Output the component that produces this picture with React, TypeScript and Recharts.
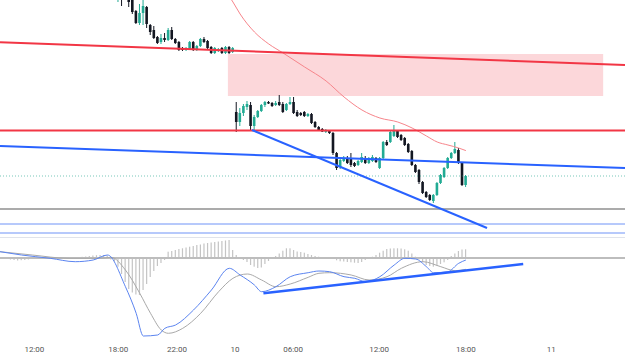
import React from 'react';
import {
  ComposedChart, Bar, Line, XAxis, YAxis, ReferenceLine, ReferenceArea,
} from 'recharts';

// 15-minute bars; x is the bar number counted from the left edge of the view
const FIRST_BAR = 33;
const VIEW_BARS = 174.4;

const BULL = '#22ab94';
const BEAR = '#131722';
const RED = '#f23645';
const BLUE = '#2962ff';

// [open, high, low, close] per bar, starting at FIRST_BAR
const ohlc: [number, number, number, number][] = [
  [2425, 2432.5, 2419, 2430], [2424, 2426, 2417, 2420.5], [2423, 2427, 2421, 2425],
  [2422, 2424, 2416.5, 2419], [2421, 2422, 2413, 2414], [2414.5, 2415, 2408, 2408.5],
  [2408.5, 2418, 2407.5, 2413.5], [2413.5, 2420.5, 2407.5, 2417], [2416.5, 2417, 2406, 2408],
  [2407.5, 2408, 2402.5, 2404], [2405, 2407, 2400.5, 2401], [2401.5, 2402, 2398, 2398.5],
  [2399, 2403, 2398, 2401], [2401, 2403.5, 2399, 2400], [2400, 2406, 2399.5, 2405],
  [2405, 2406.5, 2400, 2400.5], [2400.5, 2401, 2398, 2398.5], [2399, 2399.5, 2394.5, 2395],
  [2395.5, 2396.5, 2394.5, 2395.25], [2395, 2396.5, 2394.5, 2396], [2395.5, 2399.5, 2395, 2399],
  [2399, 2399.5, 2394.5, 2395], [2395, 2397.5, 2394.5, 2397], [2397, 2401, 2396.5, 2400.5],
  [2400.5, 2401.5, 2398.5, 2399], [2399.5, 2400, 2395.5, 2396], [2396.5, 2397, 2393, 2393.5],
  [2393.5, 2396.5, 2393, 2396], [2394.5, 2396, 2394, 2395.5], [2396, 2396.5, 2393, 2393.5],
  [2393.5, 2397, 2393, 2396.5], [2396.5, 2397, 2393, 2393.5], [2394, 2396.5, 2393.5, 2396],
  // day 10
  [2364, 2369, 2354, 2359], [2359, 2366, 2357, 2363.5], [2363.5, 2368, 2362, 2367],
  [2366.5, 2369.5, 2365, 2368], [2367.5, 2369, 2354.5, 2357], [2357, 2362.5, 2355, 2361.5],
  [2361.5, 2365, 2361, 2364.5], [2364.5, 2368, 2364, 2367.5], [2367.5, 2369.5, 2366.5, 2369],
  [2369, 2369.5, 2368, 2368.25], [2368.5, 2369, 2366.5, 2367], [2367.5, 2369.5, 2367, 2368.5],
  [2369, 2372.5, 2367, 2367.5], [2368, 2369, 2363.5, 2364], [2365, 2368.5, 2364.5, 2368],
  [2368, 2371.5, 2367.5, 2369], [2369, 2371.5, 2363, 2363.5], [2364, 2365, 2361.5, 2362],
  [2363.5, 2364, 2362, 2362.5], [2364, 2364.5, 2361.5, 2362], [2362, 2363.5, 2361.5, 2363],
  [2363, 2363.5, 2358, 2358.5], [2359, 2359.5, 2356, 2356.5], [2356.5, 2357, 2354.5, 2355],
  [2355.5, 2356, 2354, 2354.25], [2354, 2355.5, 2353.5, 2355], [2354.5, 2355, 2353, 2353.5],
  [2353.5, 2354, 2342.5, 2343.5], [2343.5, 2344, 2335, 2336], [2336.5, 2341, 2335.5, 2340],
  [2339.5, 2342, 2339, 2341], [2341, 2342, 2338, 2338.5], [2341, 2343.5, 2336.5, 2337.5],
  [2338.5, 2339, 2336.5, 2337], [2337.5, 2340, 2337, 2339.5], [2339, 2343.5, 2338.5, 2341.5],
  [2341, 2342, 2338, 2338.5], [2338.5, 2341.5, 2338, 2341], [2339.5, 2342.5, 2339, 2341.5],
  [2341, 2341.5, 2338.5, 2339], [2336, 2341.5, 2335.5, 2341], [2341, 2349.5, 2340.5, 2349],
  [2349, 2350, 2347, 2347.5], [2349, 2354.5, 2348.5, 2354], [2352, 2357.5, 2351.5, 2355],
  [2354.5, 2355, 2351, 2351.5], [2352.5, 2353, 2349.5, 2350], [2351, 2351.5, 2347, 2347.5],
  [2348, 2348.5, 2343.5, 2344], [2344.5, 2345, 2337, 2337.5], [2337.5, 2338, 2333.5, 2334],
  [2335, 2335.5, 2328, 2329], [2329, 2329.5, 2323, 2323.5], [2324, 2324.5, 2321, 2321.5],
  [2322.5, 2323, 2319.5, 2320], [2319.5, 2323, 2318.5, 2322.5], [2322.5, 2329, 2322, 2328.5],
  [2328.5, 2333, 2328, 2332.5], [2331.5, 2336.5, 2331, 2336], [2336, 2341.5, 2335.5, 2341],
  [2341, 2344, 2340.5, 2343.5], [2343.5, 2349, 2343, 2345.5], [2345, 2346, 2338, 2338.5],
  [2338.5, 2339, 2327, 2327.5], [2327.5, 2332.5, 2326.5, 2332],
];

// moving average, [bar, value]
const maPoints: [number, number][] = [
  [62, 2427], [65, 2419], [67, 2413], [71, 2404], [75, 2398], [79, 2393.5], [85, 2386.5],
  [91, 2379.5], [96, 2371.5], [101, 2365], [106, 2361], [111, 2359], [115, 2356],
  [119, 2352], [122, 2349], [125, 2347.5], [128, 2346], [130, 2344.7],
];

// oscillator pane, [bar, value]
const macdPoints: [number, number][] = [
  [0, 0.63], [6, 0.3], [14, -0.03], [21, -0.37], [26, -0.2], [30, 0.3], [35, -2.87],
  [38, -5.53], [40, -7.8], [44, -7.7], [46, -7.03], [49, -6.7], [54, -5.2], [59, -3.2],
  [64, -1.03], [67, -1.7], [71, -2.7], [73, -3.37], [77, -2.87], [81, -1.87], [86, -1.47],
  [89, -1.3], [92, -1.37], [96, -1.87], [99, -2.03], [102, -2.37], [106, -1.87], [110, -0.7],
  [113, -0.03], [116, -0.1], [119, -0.87], [121, -1.47], [125, -1.37], [128, -0.53], [130, -0.2],
];

const signalPoints: [number, number][] = [
  [0, 0.63], [9, 0.3], [19, -0.03], [28, -0.03], [31, 0.07], [35, -1.2], [39, -3.53],
  [42, -5.53], [45, -7.2], [47, -7.53], [51, -7.03], [56, -5.53], [61, -3.37], [65, -2.03],
  [69, -1.6], [73, -2.2], [77, -2.87], [81, -2.6], [86, -1.93], [89, -1.53], [92, -1.47],
  [98, -1.7], [103, -2.2], [108, -1.87], [112, -1.03], [118, -0.37], [123, -0.87],
  [127, -1.27], [130, -1.13],
];

// histogram, one value per bar from bar 0
const histValues: number[] = [
  0.05, -0.05, -0.1, -0.15, -0.2, -0.25, -0.22, -0.2, -0.15, -0.1, -0.05, 0, 0, 0.02, 0.02,
  0.05, 0.05, 0.06, 0.06, 0.08, 0.08, 0.1, 0.1, 0.12, 0.15, 0.2, 0.25, 0.28, 0.3, 0.3, 0.25,
  -0.15, -0.37, -0.87, -1.6, -2.4, -3.1, -3.45, -3.65, -3.7, -3.2, -2.6, -1.9, -1.3, -0.8, -0.5, -0.2,
  0.63, 0.7, 0.8, 0.9, 0.97, 1.05, 1.13, 1.2, 1.3, 1.35, 1.45, 1.5, 1.55, 1.6, 1.65, 1.7, 1.75, 1.8, 0.8, 0.3,
  0, -0.2, -0.4, -0.7, -0.87, -1.0, -0.95, -0.6, -0.3, -0.05, 0.2, 0.45, 0.73, 0.97, 0.97, 0.8, 0.65,
  0.6, 0.53, 0.4, 0.3, 0.2, 0.13, 0.08, 0.03, -0.05, -0.1, -0.23, -0.33, -0.35, -0.4, -0.43, -0.47,
  -0.5, -0.4, -0.2, -0.05, 0.13, 0.3, 0.53, 0.73, 0.9, 0.95, 0.97, 0.97, 0.95, 0.87, 0.73, 0.45,
  0.13, -0.15, -0.37, -0.7, -0.8, -0.87, -0.8, -0.6, -0.43, -0.2, 0.2, 0.45, 0.7, 0.85, 0.87,
];

const tickBars = [9.6, 33, 49.4, 65.6, 81.8, 105.8, 130, 153.8];
const tickLabels = ['12:00', '18:00', '22:00', '10', '06:00', '12:00', '18:00', '11'];

// drawn levels and trend lines
const upperRedLine: [number, number][] = [[0, 2398.85], [VIEW_BARS, 2387.5]];
const gapZone = { x1: 63.6, x2: 168.3, y1: 2372, y2: 2393 };
const redLevel = 2354.75;
const blueChannel: [number, number][] = [[0, 2347], [VIEW_BARS, 2336]];
const blueTrend: [number, number][] = [[70.3, 2355], [135.9, 2306]];
const lastPrice = 2332;
const greyLevel = 2315.5;
const blueLevels = [2308, 2303.5];
const oscTrend: [number, number][] = [[73.5, -3.53], [146, -0.6]];

const candleRows = ohlc.map(([o, h, l, c], k) => ({ i: FIRST_BAR + k, o, h, l, c, range: [l, h] }));
const maRows = maPoints.map(([i, v]) => ({ i, v }));
const macdRows = macdPoints.map(([i, v]) => ({ i, v }));
const signalRows = signalPoints.map(([i, v]) => ({ i, v }));
const histRows = histValues.map((v, i) => ({ i, v }));

const seg = (pts: [number, number][]) => pts.map(([x, y]) => ({ x, y }));

const Candle = (props: any) => {
  const { x, y, width, height, payload } = props;
  const { o, h, l, c } = payload;
  const top = Math.min(y, y + height);
  const bottom = Math.max(y, y + height);
  if (!(bottom > top)) return null;
  const k = (bottom - top) / (h - l);
  const yOf = (v: number) => top + (h - v) * k;
  const color = c >= o ? BULL : BEAR;
  const cx = x + width / 2;
  const bTop = yOf(Math.max(o, c));
  const bH = Math.max(1, yOf(Math.min(o, c)) - bTop);
  return (
    <g>
      <line x1={cx} x2={cx} y1={top} y2={bottom} stroke={color} strokeWidth={1} />
      <rect x={cx - 1.3} y={bTop} width={2.6} height={bH} fill={color} />
    </g>
  );
};

const HistBar = (props: any) => {
  const { x, y, width, height } = props;
  const top = Math.min(y, y + height);
  const h = Math.abs(height);
  return <rect x={x + width / 2 - 0.6} y={top} width={1.2} height={Math.max(h, 0.5)} fill="#c4c4c4" />;
};

export default function App() {
  return (
    <div style={{
      position: 'absolute', left: 0, top: 0, width: 625, height: 357,
      background: '#fff', fontFamily: 'Roboto, sans-serif', overflow: 'hidden',
    }}>
      <ComposedChart width={625} height={237} data={candleRows}
        margin={{ top: 0, right: 0, bottom: 0, left: 0 }}>
        <XAxis dataKey="i" type="number" domain={[0, VIEW_BARS]} allowDataOverflow hide />
        <YAxis type="number" domain={[2301.5, 2420]} allowDataOverflow hide />
        <ReferenceArea x1={gapZone.x1} x2={gapZone.x2} y1={gapZone.y1} y2={gapZone.y2}
          fill={RED} fillOpacity={0.2} stroke="none" />
        <ReferenceLine y={greyLevel} stroke="#ababab" strokeWidth={2} />
        {blueLevels.map((v) => (
          <ReferenceLine key={v} y={v} stroke="#6f93f7" strokeWidth={1} />
        ))}
        <ReferenceLine y={lastPrice} stroke="#089981" strokeOpacity={0.55}
          strokeDasharray="1 2" strokeWidth={1} />
        <Bar dataKey="range" barSize={3} shape={<Candle />} isAnimationActive={false} />
        <Line data={maRows} dataKey="v" type="monotone" stroke="#f7858b" strokeWidth={1}
          dot={false} isAnimationActive={false} />
        <ReferenceLine segment={seg(upperRedLine)} stroke={RED} strokeWidth={2} ifOverflow="visible" />
        <ReferenceLine y={redLevel} stroke={RED} strokeWidth={2} />
        <ReferenceLine segment={seg(blueChannel)} stroke={BLUE} strokeWidth={2} ifOverflow="visible" />
        <ReferenceLine segment={seg(blueTrend)} stroke={BLUE} strokeWidth={2} ifOverflow="visible" />
      </ComposedChart>

      <div style={{ height: 1, background: '#e0e3eb' }} />

      <ComposedChart width={625} height={119} data={histRows}
        margin={{ top: 0, right: 0, bottom: 0, left: 0 }}>
        <XAxis dataKey="i" type="number" domain={[0, VIEW_BARS]} allowDataOverflow
          ticks={tickBars} interval={0} height={19}
          tickFormatter={(v: number) => tickLabels[tickBars.indexOf(v)] ?? ''}
          axisLine={false} tickLine={false} tick={{ fill: '#555', fontSize: 8 }} />
        <YAxis type="number" domain={[-8, 2]} allowDataOverflow hide />
        <Bar dataKey="v" barSize={1} shape={<HistBar />} isAnimationActive={false} />
        <ReferenceLine y={0} stroke="#bdbdbd" strokeWidth={2} />
        <Line data={signalRows} dataKey="v" type="monotone" stroke="#a9a9a9" strokeWidth={1}
          dot={false} isAnimationActive={false} />
        <Line data={macdRows} dataKey="v" type="monotone" stroke="#5b84f0" strokeWidth={1}
          dot={false} isAnimationActive={false} />
        <ReferenceLine segment={seg(oscTrend)} stroke={BLUE} strokeWidth={2.5} ifOverflow="visible" />
      </ComposedChart>
    </div>
  );
}
